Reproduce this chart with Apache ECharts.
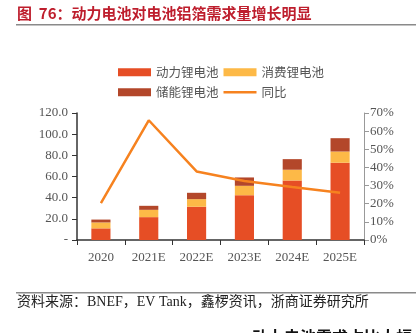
<!DOCTYPE html>
<html><head><meta charset="utf-8">
<script src="https://cdn.jsdelivr.net/npm/echarts@6/dist/echarts.min.js"></script>
<style>html,body{margin:0;padding:0;background:#fff}#c{width:418px;height:333px}</style>
</head><body><div id="c"></div>
<script>
var categories = ['2020','2021E','2022E','2023E','2024E','2025E'];
var powerLi = [11.0, 21.6, 31.4, 42.3, 56.2, 73.0];
var consumerLi = [5.6, 6.9, 7.2, 8.9, 10.2, 10.6];
var storageLi = [2.7, 3.8, 6.0, 7.9, 10.0, 12.6];
var yoy = [20.3, 66.0, 37.8, 32.5, 29.2, 26.0];
var leftTicks = [0, 20, 40, 60, 80, 100, 120];
var rightTicks = [0, 10, 20, 30, 40, 50, 60, 70];
var names = ['动力锂电池','消费锂电池','储能锂电池','同比'];
var serif = 'Liberation Serif, "Noto Sans CJK SC", serif';
var chart = echarts.init(document.getElementById('c'));
chart.setOption({
  animation: false,
  backgroundColor: '#fff',
  graphic: [
    {type:'text', left:17, top:6, style:{text:'图  76：动力电池对电池铝箔需求量增长明显', fill:'#BE1E2D', font:'bold 15px "Noto Sans CJK SC", sans-serif'}},
    {type:'rect', shape:{x:16, y:24, width:400, height:1.5}, style:{fill:'#8a8a8a'}},
    {type:'rect', shape:{x:16, y:292, width:400, height:1.5}, style:{fill:'#8a8a8a'}},
    {type:'text', left:17, top:295, style:{text:'资料来源：BNEF，EV Tank，鑫椤资讯，浙商证券研究所', fill:'#222', font:'14px ' + serif}},
    {type:'text', left:252, top:329, style:{text:'动力电池需求占比大幅', fill:'#111', font:'bold 16px "Noto Sans CJK SC", sans-serif'}}
  ],
  legend: [
    {left:113, top:61, itemWidth:33, itemHeight:8, itemGap:5,
     data:[{name:names[0], icon:'rect'}, {name:names[1], icon:'rect'}],
     textStyle:{fontSize:12.5, color:'#555', fontFamily:'"Noto Sans CJK SC"'}},
    {left:113, top:81, itemWidth:33, itemHeight:8, itemGap:5,
     data:[{name:names[2], icon:'rect'}, {name:names[3], icon:'path://M0,0 M0,8 M0,2.8 L33,2.8 L33,5.2 L0,5.2 Z'}],
     textStyle:{fontSize:12.5, color:'#555', fontFamily:'"Noto Sans CJK SC"'}}
  ],
  grid: {left:77, right:54, top:113, bottom:93, containLabel:false},
  xAxis: {
    type:'category', data:categories,
    axisLine:{lineStyle:{color:'#333', width:1.5}},
    axisTick:{show:true, alignWithLabel:false, length:5, lineStyle:{color:'#333'}},
    axisLabel:{color:'#555', fontSize:13, fontFamily:serif, margin:11}
  },
  yAxis: [
    {type:'value', min:leftTicks[0], max:leftTicks[leftTicks.length-1], interval:20,
     axisLine:{show:true, lineStyle:{color:'#333', width:1.5}},
     axisTick:{show:true, length:5, lineStyle:{color:'#333'}},
     splitLine:{show:false},
     axisLabel:{color:'#555', fontSize:13, fontFamily:serif, margin:9,
       formatter:function(v){return v===0?'-':v.toFixed(1);}}},
    {type:'value', position:'right', min:rightTicks[0], max:rightTicks[rightTicks.length-1], interval:10,
     axisLine:{show:true, lineStyle:{color:'#999', width:1}},
     axisTick:{show:true, length:5, lineStyle:{color:'#999'}},
     splitLine:{show:false},
     axisLabel:{color:'#555', fontSize:13, fontFamily:serif, margin:6,
       formatter:function(v){return v+'%';}}}
  ],
  series: [
    {name:names[0], type:'bar', stack:'a', data:powerLi, barWidth:'40%', itemStyle:{color:'#E64E25'}},
    {name:names[1], type:'bar', stack:'a', data:consumerLi, barWidth:'40%', itemStyle:{color:'#FDB947'}},
    {name:names[2], type:'bar', stack:'a', data:storageLi, barWidth:'40%', itemStyle:{color:'#B3472A'}},
    {name:names[3], type:'line', yAxisIndex:1, data:yoy, symbol:'none', lineStyle:{color:'#F6821F', width:2.5}, itemStyle:{color:'#F6821F'}}
  ]
});
</script></body></html>
